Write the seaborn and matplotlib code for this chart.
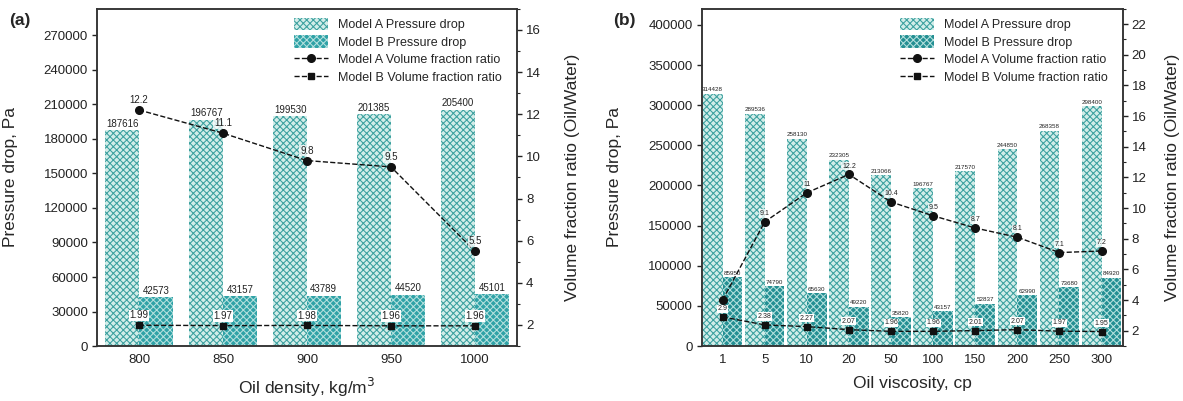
import numpy as np
import pandas as pd
import matplotlib
matplotlib.use("Agg")
import matplotlib.pyplot as plt
import seaborn as sns
from matplotlib.ticker import MultipleLocator

# ---------------- data ----------------
dens_cats = ["800", "850", "900", "950", "1000"]
dens_A_dp = [187616, 196767, 199530, 201385, 205400]
dens_B_dp = [42573, 43157, 43789, 44520, 45101]
dens_A_ratio = [12.2, 11.1, 9.8, 9.5, 5.5]
dens_B_ratio = [1.99, 1.97, 1.98, 1.96, 1.96]
dens_A_ratio_labels = ["12.2", "11.1", "9.8", "9.5", "5.5"]
dens_B_ratio_labels = ["1.99", "1.97", "1.98", "1.96", "1.96"]

visc_cats = ["1", "5", "10", "20", "50", "100", "150", "200", "250", "300"]
visc_A_dp = [314428, 289536, 258130, 232305, 213066, 196767, 217570, 244850, 268358, 298400]
visc_B_dp = [85950, 74790, 65630, 49220, 35820, 43157, 52837, 62990, 73680, 84920]
visc_A_ratio = [4.0, 9.1, 11, 12.2, 10.4, 9.5, 8.7, 8.1, 7.1, 7.2]
visc_B_ratio = [2.9, 2.38, 2.27, 2.07, 1.96, 1.96, 2.01, 2.07, 1.97, 1.95]
visc_A_ratio_labels = ["", "9.1", "11", "12.2", "10.4", "9.5", "8.7", "8.1", "7.1", "7.2"]
visc_B_ratio_labels = ["2.9", "2.38", "2.27", "2.07", "1.96", "1.96", "2.01", "2.07", "1.97", "1.95"]

series_names = ["Model A Pressure drop", "Model B Pressure drop",
                "Model A Volume fraction ratio", "Model B Volume fraction ratio"]

sns.set_theme(style="ticks")
plt.rcParams['font.family'] = ['Liberation Sans', 'DejaVu Sans']
plt.rcParams['hatch.linewidth'] = 0.75

A_face, A_hatch = "#d2ede9", "#3a9f9e"
B_hatch = "#b5e1de"
spine_col = "#333333"

fig = plt.figure(figsize=(11.83, 4.01), dpi=100)


def panel(rect, cats, A_dp, B_dp, A_r, B_r, A_rlab, B_rlab, B_face, width, ylim, ystep,
          r_lim, bar_fs, r_fs, xlabel, tag, tag_x, ms, rlab_x):
    ax = fig.add_axes(rect)
    n = len(cats)
    df = pd.DataFrame({
        "cat": cats * 2,
        "value": A_dp + B_dp,
        "series": [series_names[0]] * n + [series_names[1]] * n,
    })
    sns.barplot(data=df, x="cat", y="value", hue="series", order=cats,
                hue_order=series_names[:2], palette=[A_face, B_face],
                width=width, gap=0, dodge=True, ax=ax, legend=False,
                linewidth=0, saturation=1)
    for i, cont in enumerate(ax.containers):
        for p in cont.patches:
            p.set_hatch("xxxxx")
            p.set_edgecolor(A_hatch if i == 0 else B_hatch)
            p.set_linewidth(0)
        vals = A_dp if i == 0 else B_dp
        ax.bar_label(cont, labels=[str(v) for v in vals], fontsize=bar_fs,
                     padding=1, color="#222222")
    ax.set_xlim(-0.5, n - 0.5)
    ax.set_ylim(*ylim)
    ax.yaxis.set_major_locator(MultipleLocator(ystep))
    ax.set_xlabel(xlabel, fontsize=12.5)
    ax.set_ylabel("Pressure drop, Pa", fontsize=12.5)
    ax.yaxis.set_label_coords(-0.188, 0.5)
    ax.xaxis.labelpad = 7
    ax.tick_params(axis="x", length=0, pad=6, labelsize=9.5, colors="#222222")
    ax.tick_params(axis="y", length=3.5, width=1, pad=3, labelsize=9.5,
                   direction="out", colors="#222222")
    for s in ax.spines.values():
        s.set_visible(True)
        s.set_color(spine_col)
        s.set_linewidth(1.1)

    ax2 = ax.twinx()
    x = np.arange(n)
    lA, = ax2.plot(x, A_r, linestyle="--", color="#111111", lw=1.0, marker="o",
                   markersize=ms, label=series_names[2], zorder=3)
    lB, = ax2.plot(x, B_r, linestyle="--", color="#111111", lw=1.0, marker="s",
                   markersize=ms - 0.6, label=series_names[3], zorder=3)
    for xi, yi, lab in zip(x, A_r, A_rlab):
        if lab:
            ax2.annotate(lab, (xi, yi), xytext=(0, 3.5), textcoords="offset points",
                         ha="center", va="bottom", fontsize=r_fs, color="#222222",
                         bbox=dict(boxstyle="square,pad=0.08", fc="white", ec="none", alpha=0.75))
    for xi, yi, lab in zip(x, B_r, B_rlab):
        ax2.annotate(lab, (xi, yi), xytext=(0, 3.5), textcoords="offset points",
                     ha="center", va="bottom", fontsize=r_fs, color="#222222",
                     bbox=dict(boxstyle="square,pad=0.08", fc="white", ec="none"))
    ax2.set_ylim(*r_lim)
    ax2.yaxis.set_major_locator(MultipleLocator(2))
    ax2.yaxis.set_minor_locator(MultipleLocator(1))
    ax2.tick_params(axis="y", which="major", length=3.5, width=1, pad=3,
                    labelsize=9.5, direction="out", colors="#222222")
    ax2.tick_params(axis="y", which="minor", length=2, width=0.8, direction="out")
    ax2.set_ylabel("Volume fraction ratio (Oil/Water)", fontsize=12.5)
    ax2.yaxis.set_label_coords(rlab_x, 0.5)
    for s in ax2.spines.values():
        s.set_color(spine_col)
        s.set_linewidth(1.1)

    handles = [ax.containers[0].patches[0], ax.containers[1].patches[0], lA, lB]
    ax2.legend(handles=handles, labels=series_names, loc="upper right",
               bbox_to_anchor=(0.985, 1.0), frameon=False, fontsize=9,
               handlelength=2.7, handleheight=1.2, handletextpad=0.8,
               labelspacing=0.32, borderaxespad=0.3)
    fig.text(tag_x, 0.95, tag, fontsize=12.5, fontweight="bold", ha="left", va="center")
    return ax, ax2


panel([0.082, 0.137, 0.355, 0.841], dens_cats, dens_A_dp, dens_B_dp,
      dens_A_ratio, dens_B_ratio, dens_A_ratio_labels, dens_B_ratio_labels,
      "#2fa2a7", 0.8, (0, 293000), 30000, (1, 17), 7, 7,
      "Oil density, kg/m$^3$", "(a)", 0.008, 5.5, 1.115)

panel([0.593, 0.137, 0.356, 0.841], visc_cats, visc_A_dp, visc_B_dp,
      visc_A_ratio, visc_B_ratio, visc_A_ratio_labels, visc_B_ratio_labels,
      "#248f93", 0.94, (0, 420000), 50000, (1, 23), 4.5, 5,
      "Oil viscosity, cp", "(b)", 0.518, 5.5, 1.1)

fig.savefig("out.png", dpi=100)
